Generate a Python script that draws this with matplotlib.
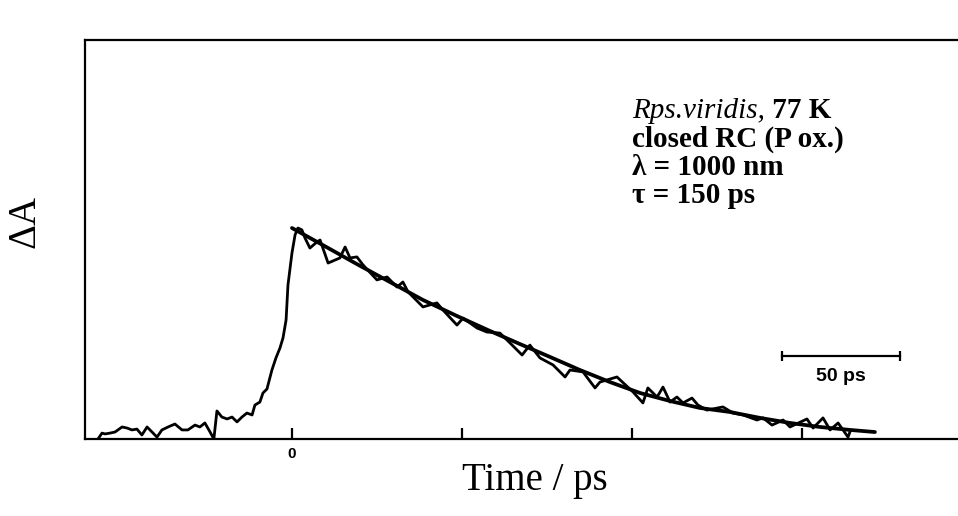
import matplotlib.pyplot as plt
import numpy as np

# measured transient absorption trace (time in ps, dA normalised to peak)
time_ps = [-82.2, -80.5, -79.2, -77.1, -75.0, -72.0, -69.9, -67.8, -65.7, -63.6,
           -61.4, -59.3, -57.2, -55.1, -52.5, -49.6, -46.6, -44.1, -41.1, -39.0,
           -36.9, -34.7, -33.1, -31.8, -29.7, -27.5, -25.4, -23.3, -21.2, -19.1,
           -16.9, -15.7, -13.6, -12.3, -10.6, -8.5, -6.8, -5.1, -3.8, -2.5,
           -1.7, 0.0, 1.3, 2.5, 4.2, 5.5, 7.6, 10.6, 11.9, 15.3,
           20.3, 22.5, 24.6, 27.5, 30.1, 36.0, 40.3, 44.5, 47.0, 49.2,
           55.5, 61.4, 64.0, 69.9, 72.5, 78.4, 82.6, 88.1, 92.4, 97.5,
           100.8, 105.1, 110.6, 115.7, 117.8, 123.3, 128.4, 130.5, 137.7, 144.5,
           148.7, 150.8, 154.7, 157.2, 160.2, 163.1, 165.7, 169.5, 172.0, 175.8,
           182.6, 186.9, 191.1, 197.0, 199.6, 203.4, 208.1, 211.0, 218.2, 220.8,
           225.0, 228.0, 231.4, 235.6, 236.4]
signal = [0.0, 0.028, 0.024, 0.028, 0.033, 0.057, 0.052, 0.043, 0.047, 0.019,
          0.057, 0.033, 0.009, 0.043, 0.057, 0.071, 0.043, 0.043, 0.066, 0.057,
          0.076, 0.033, 0.0, 0.133, 0.104, 0.095, 0.104, 0.081, 0.104, 0.123,
          0.114, 0.161, 0.175, 0.218, 0.237, 0.327, 0.384, 0.431, 0.479, 0.564,
          0.730, 0.882, 0.967, 1.0, 0.991, 0.953, 0.905, 0.934, 0.943, 0.834,
          0.858, 0.910, 0.858, 0.863, 0.825, 0.754, 0.768, 0.720, 0.744, 0.697,
          0.626, 0.645, 0.611, 0.540, 0.573, 0.526, 0.507, 0.502, 0.455, 0.398,
          0.445, 0.384, 0.351, 0.294, 0.327, 0.318, 0.242, 0.270, 0.294, 0.223,
          0.171, 0.242, 0.199, 0.246, 0.175, 0.199, 0.171, 0.194, 0.161, 0.137,
          0.152, 0.123, 0.114, 0.090, 0.100, 0.066, 0.090, 0.057, 0.095, 0.052,
          0.100, 0.043, 0.076, 0.009, 0.033]

# fitted decay (tau = 150 ps)
fit_time = [0.0, 13.1, 27.5, 41.5, 55.5, 69.9, 83.9, 96.6, 109.3, 122.0,
            134.7, 147.5, 160.2, 172.9, 185.6, 198.3, 211.0, 223.7, 236.4, 247.0]
fit_signal = [1.0, 0.919, 0.829, 0.744, 0.659, 0.583, 0.512, 0.450, 0.389, 0.327,
              0.270, 0.218, 0.180, 0.147, 0.128, 0.100, 0.076, 0.057, 0.043, 0.033]

tick_pos = [0, 72, 144, 216]
tick_labels = ['0', '', '', '']

scalebar_x = [207.6, 257.6]
scalebar_y = 0.393

serif = ['Liberation Serif', 'DejaVu Serif']
sans = ['Liberation Sans', 'DejaVu Sans']

fig = plt.figure(figsize=(9.58, 5.16), dpi=100)
ax = fig.add_axes([85 / 958, 1 - 439 / 516, 1 - 85 / 958, (439 - 40) / 516])

ax.plot(time_ps, signal, color='black', lw=2.0, solid_joinstyle='round')
ax.plot(fit_time, fit_signal, color='black', lw=2.7, solid_capstyle='round')

ax.set_xlim(-87.7, 282.2)
ax.set_ylim(0, 1.891)
ax.spines['right'].set_visible(False)
for s in ['left', 'top', 'bottom']:
    ax.spines[s].set_linewidth(1.6)

ax.set_xticks(tick_pos)
ax.set_xticklabels(tick_labels, fontfamily=sans, fontweight='bold', fontsize=11)
ax.tick_params(axis='x', direction='in', length=8, width=1.6, pad=6)
ax.set_yticks([])

# scale bar
ax.plot(scalebar_x, [scalebar_y, scalebar_y], color='black', lw=1.6,
        marker='|', markersize=7, markeredgewidth=1.6)
ax.text(np.mean(scalebar_x), 0.294, '50 ps', ha='center', va='center',
        fontfamily=sans, fontweight='bold', fontsize=14)

# annotation block
tx = 144.1
t1 = ax.text(tx, 1.493, 'Rps.viridis,', fontfamily=serif, fontstyle='italic',
             fontsize=21, va='bottom')
ax.annotate(' 77 K', xy=(1, 0), xycoords=t1, va='bottom', ha='left',
            fontfamily=serif, fontweight='bold', fontsize=21)
ax.text(tx, 1.355, 'closed RC (P ox.)', fontfamily=serif, fontweight='bold',
        fontsize=21, va='bottom')
ax.text(tx, 1.223, 'λ = 1000 nm', fontfamily=serif, fontweight='bold',
        fontsize=21, va='bottom')
ax.text(tx, 1.090, 'τ = 150 ps', fontfamily=serif, fontweight='bold',
        fontsize=21, va='bottom')

fig.text(25 / 958, 1 - 222 / 516, 'ΔA', rotation=90, ha='center', va='center',
         fontfamily=serif, fontsize=28)
fig.text(535 / 958, 1 - 490 / 516, 'Time / ps', ha='center', va='baseline',
         fontfamily=serif, fontsize=28)

fig.savefig('out.png', dpi=100)
